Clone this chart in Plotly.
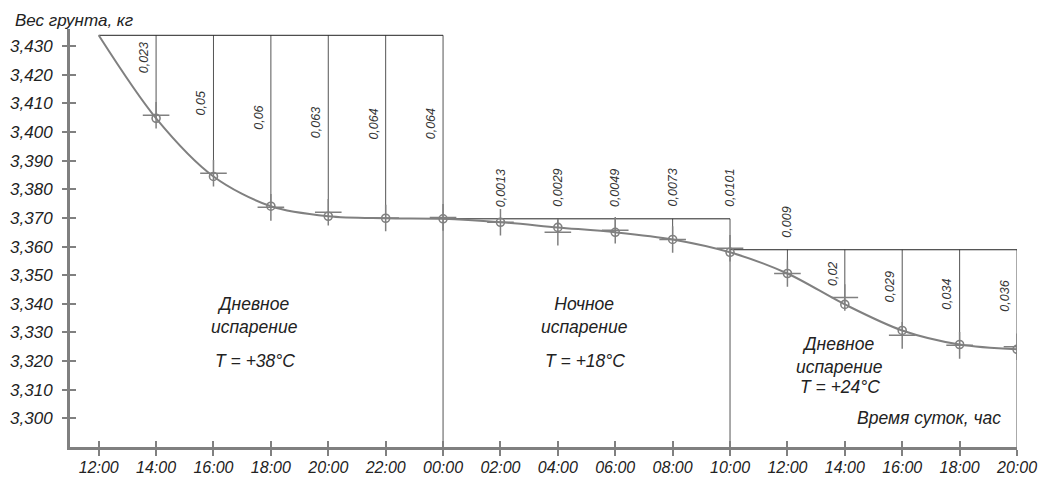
import plotly.graph_objects as go

# ---- data ----
hours = [2, 4, 6, 8, 10, 12, 14, 16, 18, 20, 22, 24, 26, 28, 30, 32]  # hours after 12:00
weight_calc = [3.4048, 3.3845, 3.3741, 3.3706, 3.3699, 3.3697, 3.3685, 3.3667,
               3.3650, 3.3625, 3.3580, 3.3506, 3.3398, 3.3307, 3.3258, 3.3241]
weight_meas = [3.4059, 3.3856, 3.3737, 3.3720, 3.3700, 3.3702, 3.3685, 3.3650,
               3.3657, 3.3625, 3.3594, 3.3506, 3.3422, 3.3290, 3.3255, 3.3250]
start_hour = 0
start_weight = 3.4338
loss_labels = ["0,023", "0,05", "0,06", "0,063", "0,064", "0,064",
               "0,0013", "0,0029", "0,0049", "0,0073", "0,0101",
               "0,009", "0,02", "0,029", "0,034", "0,036"]
period_bounds = [(0, 12), (12, 22), (22, 32)]
period_ref = [3.4338, 3.3697, 3.3589]
period_names = ["Дневное<br>испарение", "Ночное<br>испарение", "Дневное<br>испарение"]
period_temps = ["T = +38°C", "T = +18°C", "T = +24°C"]
tick_hours = list(range(0, 33, 2))
tick_text = ["12:00", "14:00", "16:00", "18:00", "20:00", "22:00", "00:00", "02:00",
             "04:00", "06:00", "08:00", "10:00", "12:00", "14:00", "16:00", "18:00", "20:00"]
y_ticks = [round(3.300 + 0.01 * i, 3) for i in range(14)]

Y_MIN, Y_MAX = 3.290, 3.436
X_MIN, X_MAX = -1, 32
GRAY = "#808080"
DARK = "#333333"
FONT = "Arial, Liberation Sans, sans-serif"

fig = go.Figure()

# reference (horizontal) lines and vertical drop lines
hx, hy, vx, vy = [], [], [], []
for (a, b), ref in zip(period_bounds, period_ref):
    hx += [a, b, None]
    hy += [ref, ref, None]
for h, w in zip(hours, weight_calc):
    for (a, b), ref in zip(period_bounds, period_ref):
        if a < h <= b:
            bottom = Y_MIN if h == b else w
            vx += [h, h, None]
            vy += [ref, bottom, None]
fig.add_trace(go.Scatter(x=vx, y=vy, mode="lines", line=dict(color="#555555", width=1),
                         hoverinfo="skip", showlegend=False))
fig.add_trace(go.Scatter(x=hx, y=hy, mode="lines", line=dict(color="#222222", width=1),
                         hoverinfo="skip", showlegend=False))

# smooth curve
fig.add_trace(go.Scatter(x=[start_hour] + hours, y=[start_weight] + weight_calc, mode="lines",
                         line=dict(color=GRAY, width=2, shape="spline", smoothing=0.9),
                         hoverinfo="skip", showlegend=False))
# measured (cross) and calculated (circle) markers
fig.add_trace(go.Scatter(x=hours, y=weight_meas, mode="markers",
                         marker=dict(symbol="cross-thin", size=19, line=dict(color=GRAY, width=1.5)),
                         showlegend=False))
fig.add_trace(go.Scatter(x=hours, y=weight_calc, mode="markers",
                         marker=dict(symbol="circle-open", size=8, color=GRAY, line=dict(width=1.6)),
                         showlegend=False))

# dummy trace for the overlaid tick axes
fig.add_trace(go.Scatter(x=[0], y=[3.3], xaxis="x2", yaxis="y2", mode="markers",
                         marker=dict(opacity=0), hoverinfo="skip", showlegend=False))

# rotated loss labels
lab_font = dict(family=FONT, size=12.5, color=DARK, style="italic")
for i, (h, w, t) in enumerate(zip(hours, weight_calc, loss_labels)):
    for (a, b), ref in zip(period_bounds, period_ref):
        if a < h <= b:
            gap = ref - w
            if gap < 0.013:
                # short drop: label above the reference line, centred on the drop line
                fig.add_annotation(x=h, y=ref, text=t, textangle=-90, showarrow=False,
                                   xanchor="center", yanchor="bottom", yshift=10, font=lab_font)
            else:
                # long drop: label left of the line, about half way down
                yc = (ref + w) / 2 + 0.001
                if i == 0:
                    yc = ref - 0.008   # first drop sits near the top, clear of the steep curve
                fig.add_annotation(x=h, y=yc, text=t, textangle=-90, showarrow=False,
                                   xanchor="right", yanchor="middle", xshift=-3, font=lab_font)

# period descriptions
big_font = dict(family=FONT, size=17.5, color="#222222", style="italic")
name_pos = [(5.44, 3.3359, 3.3199), (16.94, 3.3359, 3.3199), (25.83, 3.3221, 3.3111)]
for (xc, yn, yt), n, tt in zip(name_pos, period_names, period_temps):
    fig.add_annotation(x=xc, y=yn, text=n, showarrow=False, font=big_font, xanchor="center", yanchor="middle")
    fig.add_annotation(x=xc, y=yt, text=tt, showarrow=False, font=big_font, xanchor="center", yanchor="middle")

fig.add_annotation(x=31.5, y=3.300, text="Время суток, час", showarrow=False, font=big_font,
                   xanchor="right", yanchor="middle")
fig.add_annotation(xref="paper", yref="paper", x=-0.0607, y=1.0215, text="Вес грунта, кг",
                   showarrow=False, font=dict(family=FONT, size=17, color="#222222", style="italic"),
                   xanchor="left", yanchor="middle")

tick_font = dict(family=FONT, size=17, color="#222222", style="italic")
xtick_font = dict(family=FONT, size=16, color="#222222", style="italic")
fig.update_layout(
    width=1041, height=477,
    margin=dict(l=70, r=24, t=29, b=30, autoexpand=False),
    paper_bgcolor="white", plot_bgcolor="white",
    separators=", ",
    showlegend=False,
    xaxis=dict(range=[X_MIN, X_MAX], tickvals=tick_hours, ticktext=tick_text, ticks="outside",
               ticklen=6, tickwidth=2, tickcolor=GRAY, showline=True, linecolor=GRAY, linewidth=3,
               showgrid=False, zeroline=False, tickfont=xtick_font, ticklabelstandoff=-2,
               automargin=False),
    yaxis=dict(range=[Y_MIN, Y_MAX], tickvals=y_ticks, tickformat=".3f", ticks="outside",
               ticklen=5, tickwidth=2, tickcolor=GRAY, showline=True, linecolor=GRAY, linewidth=3,
               showgrid=False, zeroline=False, tickfont=tick_font, ticklabelstandoff=6,
               automargin=False),
    xaxis2=dict(range=[X_MIN, X_MAX], overlaying="x", anchor="y", tickvals=tick_hours, ticks="inside",
                ticklen=6, tickwidth=2, tickcolor=GRAY, showticklabels=False, showline=False,
                showgrid=False, zeroline=False, automargin=False),
    yaxis2=dict(range=[Y_MIN, Y_MAX], overlaying="y", anchor="x", side="left", tickvals=y_ticks,
                ticks="inside", ticklen=6, tickwidth=2, tickcolor=GRAY, showticklabels=False,
                showline=False, showgrid=False, zeroline=False, automargin=False),
)

# remove the default page margin so the 1041x477 figure fills the window exactly
fig.write_html("out.html", config={"displayModeBar": False},
               post_script="document.body.style.margin='0';document.body.style.overflow='hidden';")
